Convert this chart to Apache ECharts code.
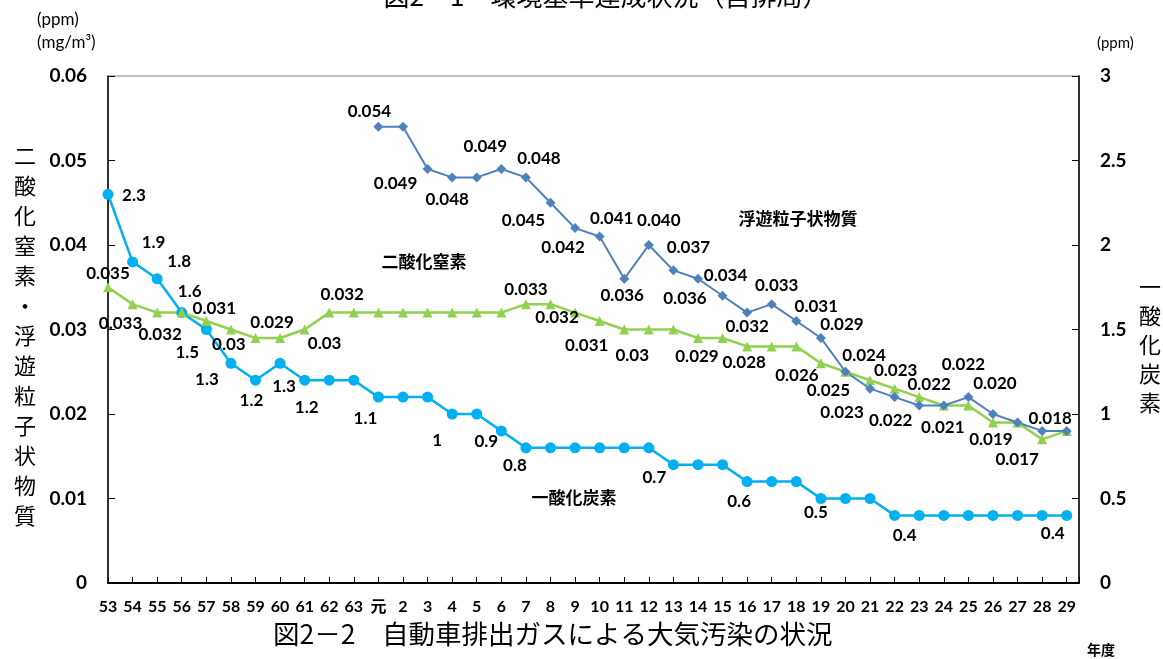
<!DOCTYPE html>
<html>
<head>
<meta charset="utf-8">
<title>図2－2 自動車排出ガスによる大気汚染の状況</title>
<script src="https://cdn.jsdelivr.net/npm/echarts@6/dist/echarts.min.js"></script>
<style>
html, body { margin: 0; padding: 0; background: #fff; }
#main { width: 1163px; height: 659px; }
</style>
</head>
<body>
<div id="main"></div>
<script>
// 年度 (昭和53 ～ 平成29)
var years = ['53','54','55','56','57','58','59','60','61','62','63','元',
	'2','3','4','5','6','7','8','9','10','11','12','13','14','15','16','17','18','19',
	'20','21','22','23','24','25','26','27','28','29'];

// 二酸化窒素 (ppm) 左軸
var no2 = [0.035,0.033,0.032,0.032,0.031,0.030,0.029,0.029,0.030,0.032,0.032,0.032,
	0.032,0.032,0.032,0.032,0.032,0.033,0.033,0.032,0.031,0.030,0.030,0.030,0.029,0.029,
	0.028,0.028,0.028,0.026,0.025,0.024,0.023,0.022,0.021,0.021,0.019,0.019,0.017,0.018];

// 浮遊粒子状物質 (mg/m3) 左軸, 元年から
var spm = [null,null,null,null,null,null,null,null,null,null,null,0.054,
	0.054,0.049,0.048,0.048,0.049,0.048,0.045,0.042,0.041,0.036,0.040,0.037,0.036,0.034,
	0.032,0.033,0.031,0.029,0.025,0.023,0.022,0.021,0.021,0.022,0.020,0.019,0.018,0.018];

// 一酸化炭素 (ppm) 右軸
var co = [2.3,1.9,1.8,1.6,1.5,1.3,1.2,1.3,1.2,1.2,1.2,1.1,
	1.1,1.1,1.0,1.0,0.9,0.8,0.8,0.8,0.8,0.8,0.8,0.7,0.7,0.7,
	0.6,0.6,0.6,0.5,0.5,0.5,0.4,0.4,0.4,0.4,0.4,0.4,0.4,0.4];

// ラベルを出す点と、点からのずらし量 [dx, dy]
var coLabels = {0:[26,1],1:[21,-19],2:[22,-17],3:[8,-21],4:[-19,23],5:[-24,16],6:[-4,20],
	7:[4,23],8:[2,27],11:[-13,21],14:[-15,27],16:[-15,11],17:[-11,18],23:[-19,13],
	26:[-8,20],29:[-5,14],32:[10,20],39:[-14,18]};
var no2Labels = {0:[0,-14],1:[-12,19],2:[3,22],4:[8,-13],5:[-2,15],7:[-8,-15],8:[20,14],
	9:[13,-18],17:[0,-15],19:[-18,5],20:[-13,24],21:[8,26],24:[-1,19],26:[-3,16],
	29:[-24,12],31:[-6,-25],32:[1,-18],33:[10,-13],34:[-1,22],36:[-2,17],38:[-25,20]};
var spmLabels = {11:[-9,-15],13:[-32,15],14:[-5,22],16:[-16,-22],17:[13,-19],18:[-27,18],
	19:[-12,19],20:[12,-18],21:[-2,17],22:[10,-24],23:[15,-23],24:[-13,20],25:[3,-20],
	26:[0,14],27:[5,-19],28:[20,-15],29:[21,-13],30:[-17,19],31:[-28,24],32:[-4,23],
	35:[-5,-33],36:[2,-30],38:[8,-12]};

var NUM_FONT = 'Lato, "Noto Sans CJK JP", sans-serif';
var JP_FONT = '"Noto Sans CJK JP", sans-serif';

function buildData(values, labels){
	var out = [];
	for(var i = 0; i < values.length; i++){
		if(values[i] === null) continue;
		if(labels[i]){
			out.push({
				value: [i, values[i]],
				label: { show: true, position: 'inside', offset: labels[i] }
			});
		}else{
			out.push([i, values[i]]);
		}
	}
	return out;
}

function labelStyle(fmt){
	return {
		show: false,
		color: '#000',
		fontFamily: NUM_FONT,
		fontWeight: 'bold',
		fontSize: 17,
		formatter: function(p){ return fmt(p.value[1]); }
	};
}

var myChart = echarts.init(document.getElementById('main'));

var option = {
	backgroundColor: '#fff',
	animation: false,
	grid: {
		left: 108, right: 84, top: 76, bottom: 76,
		show: true, borderColor: '#808080', borderWidth: 1,
		outerBoundsMode: 'none'
	},
	xAxis: {
		type: 'value',
		min: 0,
		max: 39.5,
		interval: 1,
		axisLine: { lineStyle: { color: '#000', width: 2 } },
		axisTick: { inside: true, length: 6, lineStyle: { color: '#000' } },
		axisLabel: {
			color: '#000', fontFamily: NUM_FONT, fontWeight: 'bold', fontSize: 16, margin: 16,
			formatter: function(v){ return years[v] || ''; }
		},
		splitLine: { show: false }
	},
	yAxis: [
		{
			type: 'value',
			position: 'left',
			min: 0, max: 0.06, interval: 0.01,
			axisLine: { show: true, lineStyle: { color: '#000', width: 1.5 } },
			axisTick: { show: true, inside: true, length: 7, lineStyle: { color: '#000' } },
			axisLabel: { color: '#000', fontFamily: NUM_FONT, fontWeight: 'bold', fontSize: 19, margin: 21 },
			splitLine: { show: false }
		},
		{
			type: 'value',
			position: 'right',
			min: 0, max: 3, interval: 0.5,
			axisLine: { show: true, lineStyle: { color: '#000', width: 1.5 } },
			axisTick: { show: true, inside: true, length: 7, lineStyle: { color: '#000' } },
			axisLabel: { color: '#000', fontFamily: NUM_FONT, fontWeight: 'bold', fontSize: 19, margin: 21 },
			splitLine: { show: false }
		}
	],
	series: [
		{
			name: '一酸化炭素',
			type: 'line',
			yAxisIndex: 1,
			data: buildData(co, coLabels),
			symbol: 'circle',
			symbolSize: 11,
			lineStyle: { color: '#00B0F0', width: 2.5 },
			itemStyle: { color: '#00B0F0' },
			label: labelStyle(function(v){ return String(v); })
		},
		{
			name: '二酸化窒素',
			type: 'line',
			yAxisIndex: 0,
			data: buildData(no2, no2Labels),
			symbol: 'triangle',
			symbolSize: 10,
			lineStyle: { color: '#92D050', width: 2.5 },
			itemStyle: { color: '#92D050' },
			label: labelStyle(function(v){ return String(v); })
		},
		{
			name: '浮遊粒子状物質',
			type: 'line',
			yAxisIndex: 0,
			data: buildData(spm, spmLabels),
			symbol: 'diamond',
			symbolSize: 10,
			lineStyle: { color: '#4F81BD', width: 2 },
			itemStyle: { color: '#4F81BD' },
			label: labelStyle(function(v){ return v.toFixed(3); })
		}
	],
	graphic: [
		// 上の図の題（切れている）
		{ type: 'text', x: 606, y: -4, style: { text: '図2－1　環境基準達成状況（自排局）', font: '26px ' + JP_FONT, fill: '#000', align: 'center', verticalAlign: 'middle' } },
		// 単位
		{ type: 'text', x: 37, y: 20, style: { text: '(ppm)', font: '17px ' + NUM_FONT, fill: '#000', align: 'left', verticalAlign: 'middle' } },
		{ type: 'text', x: 37, y: 43, style: { text: '(mg/m³)', font: '17px ' + NUM_FONT, fill: '#000', align: 'left', verticalAlign: 'middle' } },
		{ type: 'text', x: 1097, y: 43, style: { text: '(ppm)', font: '15px ' + NUM_FONT, fill: '#000', align: 'left', verticalAlign: 'middle' } },
		// 軸名（縦書き）
		{ type: 'text', x: 25, y: 141, style: { text: '二酸化窒素・浮遊粒子状物質'.split('').join('\n'), font: '22px ' + JP_FONT, lineHeight: 30, fill: '#000', align: 'center', verticalAlign: 'top' } },
		{ type: 'text', x: 1150, y: 272, style: { text: '一酸化炭素'.split('').join('\n'), font: '22px ' + JP_FONT, lineHeight: 29, fill: '#000', align: 'center', verticalAlign: 'top' } },
		// 系列名
		{ type: 'text', x: 424, y: 262, style: { text: '二酸化窒素', font: 'bold 17px ' + JP_FONT, fill: '#000', align: 'center', verticalAlign: 'middle' } },
		{ type: 'text', x: 798, y: 219, style: { text: '浮遊粒子状物質', font: 'bold 17px ' + JP_FONT, fill: '#000', align: 'center', verticalAlign: 'middle' } },
		{ type: 'text', x: 574, y: 498, style: { text: '一酸化炭素', font: 'bold 17px ' + JP_FONT, fill: '#000', align: 'center', verticalAlign: 'middle' } },
		// 下の題と年度
		{ type: 'text', x: 273, y: 634, style: { text: '図2－2　自動車排出ガスによる大気汚染の状況', font: '26.5px ' + JP_FONT, fill: '#000', align: 'left', verticalAlign: 'middle' } },
		{ type: 'text', x: 1101, y: 650, style: { text: '年度', font: 'bold 14px ' + JP_FONT, fill: '#000', align: 'center', verticalAlign: 'middle' } }
	]
};
myChart.setOption(option);
</script>
</body>
</html>
